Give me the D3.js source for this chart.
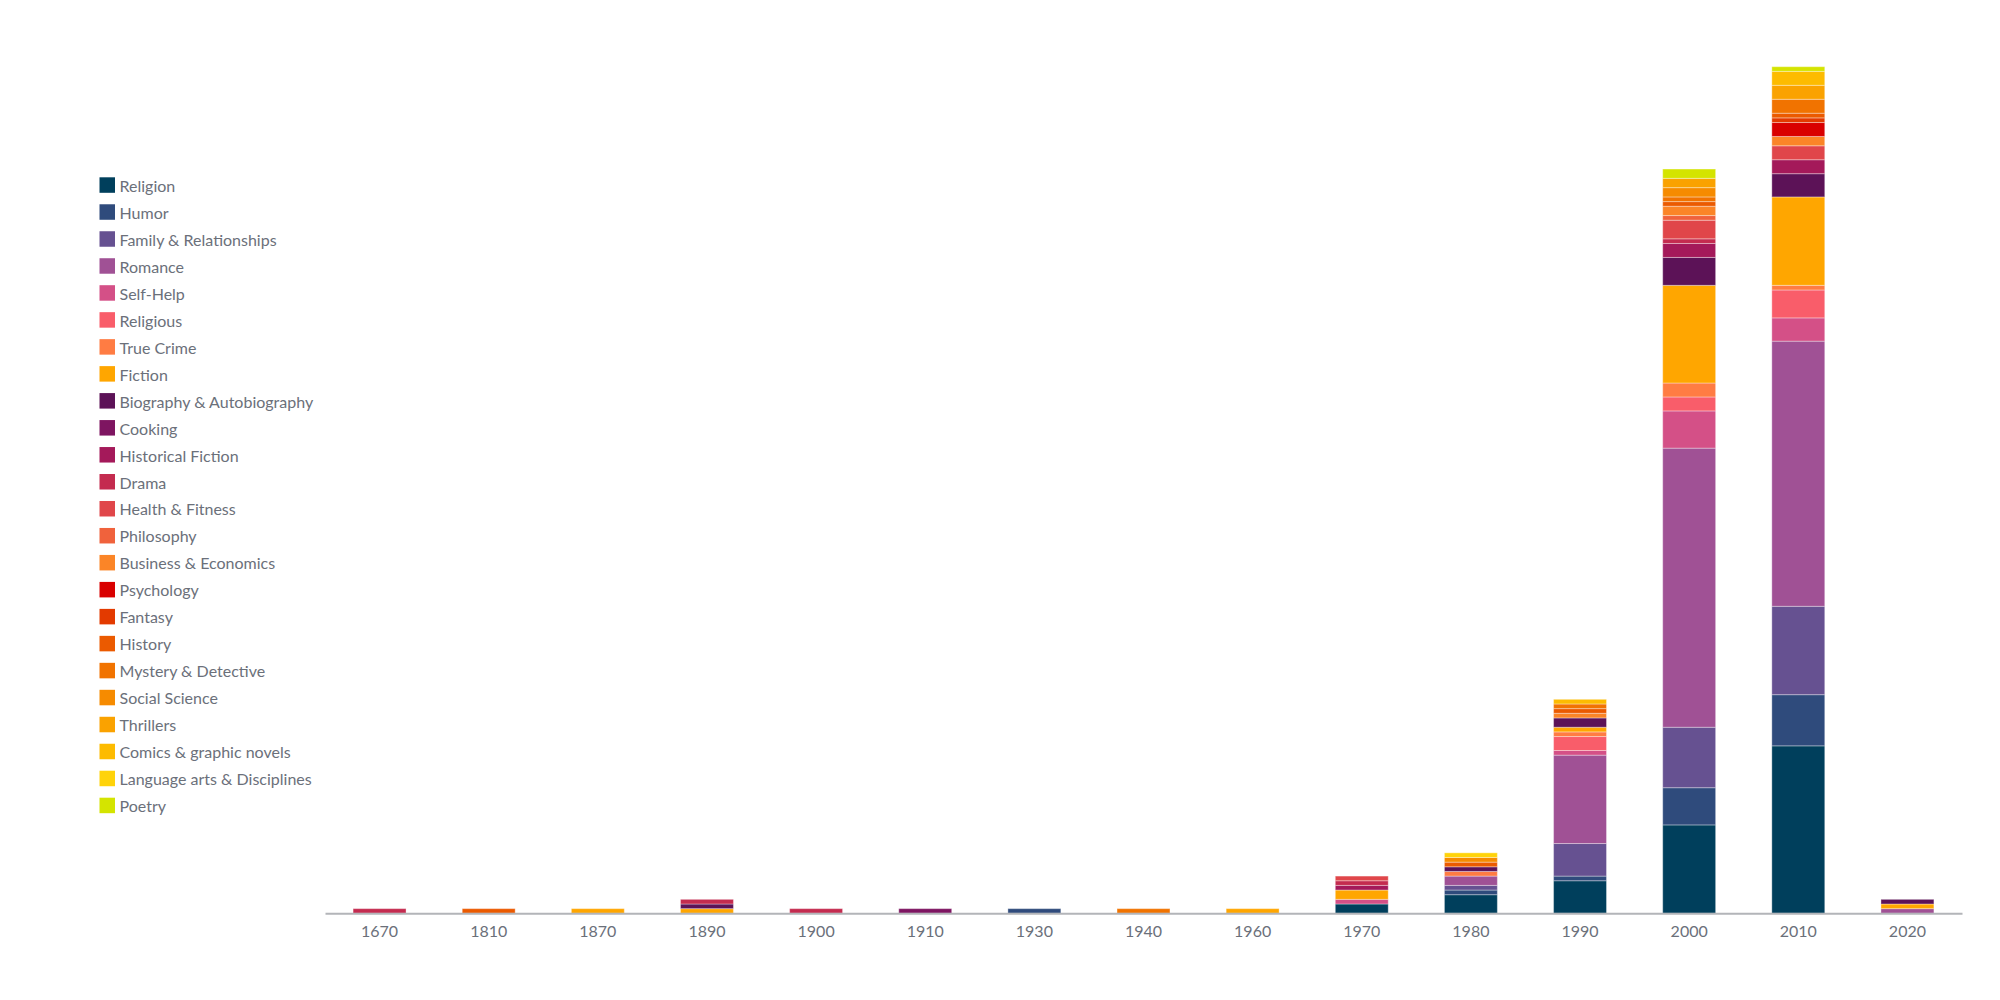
<!DOCTYPE html>
<html>
<head>
<meta charset="utf-8">
<script src="https://cdn.jsdelivr.net/npm/d3@7"></script>
<style>
  html, body { margin: 0; padding: 0; background: #fff; }
  svg { display: block; font-family: Lato, "Open Sans", sans-serif; }
</style>
</head>
<body>
<svg id="chart" width="2000" height="1000"></svg>
<script>
// ---- data ----
const decades = ["1670","1810","1870","1890","1900","1910","1930","1940","1960","1970","1980","1990","2000","2010","2020"];

const genres = ["Religion","Humor","Family & Relationships","Romance","Self-Help","Religious","True Crime","Fiction",
  "Biography & Autobiography","Cooking","Historical Fiction","Drama","Health & Fitness","Philosophy",
  "Business & Economics","Psychology","Fantasy","History","Mystery & Detective","Social Science","Thrillers",
  "Comics & graphic novels","Language arts & Disciplines","Poetry"];

const genreColors = ["#003f5c","#2f4b7c","#665191","#a05195","#d45087","#f95d6a","#ff7c43","#ffa600",
  "#5c1257","#7e1561","#a4195a","#c42b4f","#e0464a","#f0623c","#fb8527","#d90000","#e33a00","#eb5a00",
  "#f17300","#f68b00","#faa200","#fdbb00","#ffd30a","#d4e400"];

// values per genre, one per decade (same order as decades)
const religion     = [0,0,0,0,0,0,0,0,0,2,4,7,19,36,0];
const humor        = [0,0,0,0,0,0,1,0,0,0,1,1,8,11,0];
const family       = [0,0,0,0,0,0,0,0,0,0,1,7,13,19,0];
const romance      = [0,0,0,0,0,0,0,0,0,0,2,19,60,57,1];
const selfHelp     = [0,0,0,0,0,0,0,0,0,1,0,1,8,5,0];
const religious    = [0,0,0,0,0,0,0,0,0,0,0,3,3,6,0];
const trueCrime    = [0,0,0,0,0,0,0,0,0,0,1,1,3,1,0];
const fiction      = [0,0,1,1,0,0,0,0,1,2,0,1,21,19,1];
const biography    = [0,0,0,1,0,0,0,0,0,0,1,2,6,5,1];
const cooking      = [0,0,0,0,0,1,0,0,0,0,0,0,0,0,0];
const histFiction  = [0,0,0,0,0,0,0,0,0,1,0,0,3,3,0];
const drama        = [1,0,0,1,1,0,0,0,0,1,0,0,1,0,0];
const health       = [0,0,0,0,0,0,0,0,0,1,0,0,4,3,0];
const philosophy   = [0,0,0,0,0,0,0,0,0,0,0,0,1,0,0];
const business     = [0,0,0,0,0,0,0,0,0,0,0,1,2,2,0];
const psychology   = [0,0,0,0,0,0,0,0,0,0,0,0,0,3,0];
const fantasy      = [0,0,0,0,0,0,0,0,0,0,0,0,0,1,0];
const history      = [0,1,0,0,0,0,0,0,0,0,1,1,1,1,0];
const mystery      = [0,0,0,0,0,0,0,1,0,0,0,1,1,3,0];
const socialSci    = [0,0,0,0,0,0,0,0,0,0,1,0,2,0,0];
const thrillers    = [0,0,0,0,0,0,0,0,0,0,0,0,2,3,0];
const comics       = [0,0,0,0,0,0,0,0,0,0,0,1,0,3,0];
const languageArts = [0,0,0,0,0,0,0,0,0,0,1,0,0,0,0];
const poetry       = [0,0,0,0,0,0,0,0,0,0,0,0,2,1,0];

const seriesValues = [religion, humor, family, romance, selfHelp, religious, trueCrime, fiction,
  biography, cooking, histFiction, drama, health, philosophy, business, psychology, fantasy, history,
  mystery, socialSci, thrillers, comics, languageArts, poetry];

// ---- build table ----
const table = decades.map((dec, i) => {
  const row = { decade: dec };
  genres.forEach((g, j) => { row[g] = seriesValues[j][i]; });
  return row;
});

const svg = d3.select("#chart");
const x0 = 325, x1 = 1962, yBase = 913.3, yTop = 66.7;

const x = d3.scaleBand().domain(decades).range([x0, x1]).paddingInner(0.515).paddingOuter(0.2575);
const stack = d3.stack().keys(genres);
const stacked = stack(table);
const maxTotal = d3.max(table, r => d3.sum(genres, g => r[g]));
const y = d3.scaleLinear().domain([0, maxTotal]).range([yBase, yTop]);
const color = d3.scaleOrdinal().domain(genres).range(genreColors);

// bars
const layers = svg.append("g").selectAll("g").data(stacked).join("g")
  .attr("fill", d => color(d.key));
layers.selectAll("rect")
  .data(d => d.filter(s => s[1] - s[0] > 0))
  .join("rect")
  .attr("x", d => x(d.data.decade))
  .attr("width", x.bandwidth())
  .attr("y", d => y(d[1]))
  .attr("height", d => y(d[0]) - y(d[1]))
  .attr("stroke", "#ffffff")
  .attr("stroke-opacity", 0.35)
  .attr("stroke-width", 1);

// x axis
const axis = svg.append("g").attr("transform", `translate(0,${yBase})`)
  .call(d3.axisBottom(x).tickSize(0).tickPadding(12));
axis.select(".domain").attr("stroke", "#b3b5b9").attr("stroke-width", 2);
axis.selectAll("text").attr("fill", "#6b707a").style("font-size", "16px").style("font-family", "Lato, sans-serif");

// legend
const legendY = d3.scalePoint().domain(genres).range([177.3, 797.7]);
const leg = svg.append("g").selectAll("g").data(genres).join("g")
  .attr("transform", g => `translate(99.5,${legendY(g)})`);
leg.append("rect").attr("width", 15.5).attr("height", 15.5).attr("fill", g => color(g));
leg.append("text").attr("x", 20).attr("y", 14.5)
  .attr("fill", "#6b707a").style("font-size", "16px").text(g => g);
</script>
</body>
</html>
